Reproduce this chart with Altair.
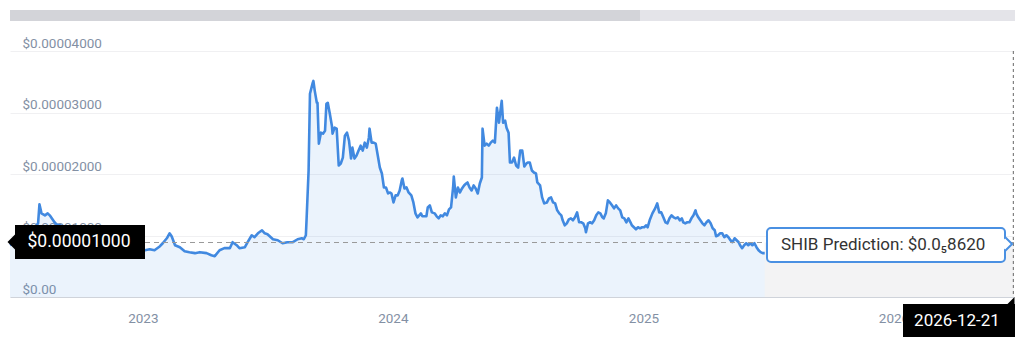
import altair as alt
import pandas as pd

# ---------------- data (price in USD) ----------------
dates_2022 = ["2022-06-21", "2022-06-28", "2022-07-05", "2022-07-13", "2022-07-20", "2022-07-27",
              "2022-08-01", "2022-08-03", "2022-08-06", "2022-08-11", "2022-08-15", "2022-08-18",
              "2022-08-21", "2022-08-25", "2022-08-28", "2022-09-16", "2022-10-01", "2022-10-16",
              "2022-10-30", "2022-11-14", "2022-11-28", "2022-12-13", "2022-12-28"]
prices_2022 = [0.842e-5, 0.891e-5, 0.955e-5, 1.004e-5, 1.053e-5, 1.117e-5,
               1.198e-5, 1.506e-5, 1.360e-5, 1.328e-5, 1.360e-5, 1.328e-5,
               1.279e-5, 1.215e-5, 1.182e-5, 1.117e-5, 1.053e-5, 0.988e-5,
               0.955e-5, 0.891e-5, 0.826e-5, 0.761e-5, 0.745e-5]

dates_2023 = ["2023-01-04", "2023-01-11", "2023-01-18", "2023-01-26", "2023-01-30", "2023-02-05",
              "2023-02-09", "2023-02-12", "2023-02-17", "2023-02-24", "2023-03-03", "2023-03-10",
              "2023-03-18", "2023-03-25", "2023-04-04", "2023-04-11", "2023-04-16", "2023-04-23",
              "2023-04-30", "2023-05-08", "2023-05-12", "2023-05-18", "2023-05-22", "2023-05-30",
              "2023-06-03", "2023-06-09", "2023-06-13", "2023-06-18", "2023-06-24", "2023-06-28",
              "2023-07-02", "2023-07-10", "2023-07-17", "2023-07-24", "2023-07-31", "2023-08-08",
              "2023-08-15", "2023-08-21", "2023-08-24", "2023-08-27", "2023-08-28", "2023-08-31",
              "2023-09-02", "2023-09-06", "2023-09-07", "2023-09-09", "2023-09-12", "2023-09-13",
              "2023-09-15", "2023-09-18", "2023-09-21", "2023-09-24", "2023-09-26", "2023-09-28",
              "2023-10-01", "2023-10-04", "2023-10-05", "2023-10-08", "2023-10-11", "2023-10-14",
              "2023-10-17", "2023-10-20", "2023-10-23", "2023-10-26", "2023-10-29", "2023-11-01",
              "2023-11-03", "2023-11-06", "2023-11-09", "2023-11-12", "2023-11-15", "2023-11-18",
              "2023-11-21", "2023-11-24", "2023-11-27", "2023-11-28", "2023-12-01", "2023-12-04",
              "2023-12-07", "2023-12-10", "2023-12-13", "2023-12-16", "2023-12-19", "2023-12-22",
              "2023-12-25", "2023-12-28", "2023-12-30"]
prices_2023 = [0.761e-5, 0.777e-5, 0.761e-5, 0.826e-5, 0.874e-5, 0.955e-5,
               1.036e-5, 0.988e-5, 0.842e-5, 0.810e-5, 0.745e-5, 0.729e-5,
               0.713e-5, 0.729e-5, 0.713e-5, 0.680e-5, 0.664e-5, 0.761e-5,
               0.794e-5, 0.794e-5, 0.891e-5, 0.842e-5, 0.794e-5, 0.810e-5,
               0.891e-5, 1.004e-5, 0.972e-5, 1.036e-5, 1.085e-5, 1.036e-5,
               1.020e-5, 0.939e-5, 0.923e-5, 0.874e-5, 0.891e-5, 0.891e-5,
               0.939e-5, 0.955e-5, 0.939e-5, 1.004e-5, 1.247e-5, 2.057e-5,
               3.304e-5, 3.482e-5, 3.514e-5, 3.352e-5, 3.158e-5, 3.158e-5,
               2.494e-5, 2.672e-5, 2.656e-5, 2.704e-5, 3.142e-5, 3.158e-5,
               2.980e-5, 2.785e-5, 2.656e-5, 2.753e-5, 2.737e-5, 2.138e-5,
               2.170e-5, 2.267e-5, 2.623e-5, 2.672e-5, 2.542e-5, 2.251e-5,
               2.429e-5, 2.251e-5, 2.300e-5, 2.381e-5, 2.461e-5, 2.381e-5,
               2.510e-5, 2.429e-5, 2.591e-5, 2.737e-5, 2.510e-5, 2.510e-5,
               2.494e-5, 2.300e-5, 2.105e-5, 2.008e-5, 1.781e-5, 1.781e-5,
               1.684e-5, 1.700e-5, 1.684e-5]

dates_2024 = ["2024-01-02", "2024-01-05", "2024-01-08", "2024-01-11", "2024-01-14", "2024-01-15",
              "2024-01-18", "2024-01-21", "2024-01-24", "2024-01-28", "2024-01-31", "2024-02-03",
              "2024-02-06", "2024-02-11", "2024-02-13", "2024-02-19", "2024-02-21", "2024-02-24",
              "2024-02-27", "2024-03-02", "2024-03-05", "2024-03-08", "2024-03-11", "2024-03-14",
              "2024-03-17", "2024-03-20", "2024-03-23", "2024-03-26", "2024-03-29", "2024-03-30",
              "2024-04-02", "2024-04-05", "2024-04-08", "2024-04-11", "2024-04-14", "2024-04-17",
              "2024-04-19", "2024-04-22", "2024-04-25", "2024-04-28", "2024-05-01", "2024-05-04",
              "2024-05-07", "2024-05-10", "2024-05-11", "2024-05-14", "2024-05-17", "2024-05-20",
              "2024-05-23", "2024-05-26", "2024-05-29", "2024-06-01", "2024-06-04", "2024-06-07",
              "2024-06-08", "2024-06-10", "2024-06-13", "2024-06-15", "2024-06-18", "2024-06-20",
              "2024-06-23", "2024-06-26", "2024-06-29", "2024-07-02", "2024-07-05", "2024-07-08",
              "2024-07-11", "2024-07-14", "2024-07-16", "2024-07-19", "2024-07-22", "2024-07-25",
              "2024-07-28", "2024-07-30", "2024-08-03", "2024-08-06", "2024-08-09", "2024-08-13",
              "2024-08-16", "2024-08-19", "2024-08-22", "2024-08-25", "2024-08-28", "2024-08-31",
              "2024-09-03", "2024-09-05", "2024-09-08", "2024-09-11", "2024-09-14", "2024-09-17",
              "2024-09-20", "2024-09-23", "2024-09-26", "2024-09-29", "2024-10-02", "2024-10-05",
              "2024-10-08", "2024-10-09", "2024-10-12", "2024-10-15", "2024-10-18", "2024-10-21",
              "2024-10-24", "2024-10-27", "2024-10-30", "2024-11-02", "2024-11-04", "2024-11-07",
              "2024-11-10", "2024-11-13", "2024-11-16", "2024-11-19", "2024-11-22", "2024-11-25",
              "2024-11-28", "2024-12-01", "2024-12-04", "2024-12-07", "2024-12-10", "2024-12-13",
              "2024-12-15", "2024-12-18", "2024-12-21", "2024-12-24", "2024-12-27", "2024-12-30"]
prices_2024 = [1.538e-5, 1.652e-5, 1.652e-5, 1.733e-5, 1.895e-5, 1.927e-5,
               1.765e-5, 1.781e-5, 1.700e-5, 1.652e-5, 1.538e-5, 1.360e-5,
               1.296e-5, 1.360e-5, 1.312e-5, 1.312e-5, 1.457e-5, 1.490e-5,
               1.376e-5, 1.360e-5, 1.312e-5, 1.279e-5, 1.328e-5, 1.312e-5,
               1.360e-5, 1.328e-5, 1.425e-5, 1.457e-5, 1.781e-5, 1.959e-5,
               1.619e-5, 1.781e-5, 1.700e-5, 1.765e-5, 1.814e-5, 1.846e-5,
               1.862e-5, 1.781e-5, 1.733e-5, 1.814e-5, 1.765e-5, 1.684e-5,
               1.846e-5, 1.943e-5, 2.737e-5, 2.461e-5, 2.494e-5, 2.461e-5,
               2.510e-5, 2.542e-5, 2.510e-5, 3.077e-5, 2.834e-5, 3.109e-5,
               3.190e-5, 2.834e-5, 2.866e-5, 2.753e-5, 2.672e-5, 2.186e-5,
               2.186e-5, 2.267e-5, 2.138e-5, 2.105e-5, 2.381e-5, 2.381e-5,
               2.121e-5, 2.170e-5, 2.186e-5, 2.186e-5, 2.057e-5, 2.024e-5,
               2.008e-5, 1.862e-5, 1.814e-5, 1.619e-5, 1.522e-5, 1.538e-5,
               1.603e-5, 1.619e-5, 1.538e-5, 1.522e-5, 1.409e-5, 1.360e-5,
               1.328e-5, 1.247e-5, 1.166e-5, 1.198e-5, 1.263e-5, 1.279e-5,
               1.247e-5, 1.296e-5, 1.376e-5, 1.215e-5, 1.215e-5, 1.198e-5,
               1.117e-5, 1.053e-5, 1.198e-5, 1.215e-5, 1.198e-5, 1.247e-5,
               1.328e-5, 1.376e-5, 1.360e-5, 1.296e-5, 1.279e-5, 1.360e-5,
               1.571e-5, 1.538e-5, 1.490e-5, 1.441e-5, 1.490e-5, 1.441e-5,
               1.409e-5, 1.296e-5, 1.279e-5, 1.215e-5, 1.279e-5, 1.215e-5,
               1.166e-5, 1.134e-5, 1.101e-5, 1.134e-5, 1.117e-5, 1.134e-5]

dates_2025 = ["2025-01-02", "2025-01-05", "2025-01-07", "2025-01-10", "2025-01-14", "2025-01-18",
              "2025-01-21", "2025-01-24", "2025-01-27", "2025-01-30", "2025-02-02", "2025-02-05",
              "2025-02-08", "2025-02-11", "2025-02-14", "2025-02-17", "2025-02-20", "2025-02-23",
              "2025-02-26", "2025-02-28", "2025-03-03", "2025-03-06", "2025-03-09", "2025-03-12",
              "2025-03-15", "2025-03-18", "2025-03-19", "2025-03-22", "2025-03-25", "2025-03-28",
              "2025-03-31", "2025-04-03", "2025-04-06", "2025-04-09", "2025-04-12", "2025-04-15",
              "2025-04-17", "2025-04-20", "2025-04-23", "2025-04-26", "2025-04-29", "2025-05-02",
              "2025-05-05", "2025-05-08", "2025-05-11", "2025-05-14", "2025-05-17", "2025-05-20",
              "2025-05-22", "2025-05-25", "2025-05-28", "2025-05-31", "2025-06-03", "2025-06-06",
              "2025-06-09", "2025-06-12", "2025-06-15", "2025-06-18", "2025-06-21", "2025-06-24",
              "2025-06-27"]
prices_2025 = [1.134e-5, 1.166e-5, 1.134e-5, 1.247e-5, 1.360e-5, 1.441e-5,
               1.522e-5, 1.376e-5, 1.376e-5, 1.296e-5, 1.215e-5, 1.198e-5,
               1.279e-5, 1.328e-5, 1.296e-5, 1.279e-5, 1.296e-5, 1.247e-5,
               1.279e-5, 1.215e-5, 1.198e-5, 1.215e-5, 1.215e-5, 1.279e-5,
               1.328e-5, 1.409e-5, 1.360e-5, 1.296e-5, 1.247e-5, 1.198e-5,
               1.166e-5, 1.215e-5, 1.247e-5, 1.198e-5, 1.117e-5, 1.085e-5,
               0.988e-5, 1.004e-5, 1.036e-5, 1.036e-5, 0.972e-5, 1.004e-5,
               0.972e-5, 0.923e-5, 0.891e-5, 0.955e-5, 0.923e-5, 0.891e-5,
               0.842e-5, 0.794e-5, 0.842e-5, 0.874e-5, 0.842e-5, 0.874e-5,
               0.842e-5, 0.874e-5, 0.810e-5, 0.761e-5, 0.729e-5, 0.713e-5,
               0.713e-5]

prediction_dates = ["2025-06-27", "2026-06-26"]
crosshair_value = 0.886e-5
cursor_date = ["2026-06-25"]
y_ticks = [0, 1e-5, 2e-5, 3e-5, 4e-5]

left_label = "$0.00001000"
right_label = "SHIB Prediction: $0.0\u20858620"
date_label = "2026-12-21"

df = pd.DataFrame({
    "date": dates_2022 + dates_2023 + dates_2024 + dates_2025,
    "price": prices_2022 + prices_2023 + prices_2024 + prices_2025,
})
pred_df = pd.DataFrame({"date": prediction_dates, "price": [crosshair_value] * 2})
cross_df = pd.DataFrame({"price": [crosshair_value]})
cursor_df = pd.DataFrame({"date": cursor_date})
one = pd.DataFrame({"k": [0]})

W, H = 1004, 246
LABEL = "#8390a4"
BLUE = "#4189e0"

x_scale = alt.Scale(domain=[alt.DateTime(year=2022, month=6, date=21),
                            alt.DateTime(year=2026, month=6, date=26)])
y_scale = alt.Scale(domain=[0, 4e-5], nice=False, zero=True)

x_axis = alt.Axis(title=None, format="%Y", tickCount={"interval": "year", "step": 1},
                  ticks=False, grid=False, domainColor="#cfd3da", labelColor=LABEL,
                  labelFontSize=13.5, labelPadding=21, labelBaseline="middle", labelFlush=False)
y_axis = alt.Axis(title=None, values=y_ticks, ticks=False, domain=False, grid=True,
                  gridColor="#f0f0f2", labelColor=LABEL, labelFontSize=13.5,
                  labelAlign="left", labelPadding=-12, labelBaseline="alphabetic",
                  labelOffset=-4,
                  labelExpr="datum.value == 0 ? '$0.00' : '$' + format(datum.value, '.8f')")

scroll_dark = alt.Chart(one).mark_rect(color="#d3d4d9").encode(
    x=alt.value(0), x2=alt.value(630), y=alt.value(-41), y2=alt.value(-30))
scroll_light = alt.Chart(one).mark_rect(color="#e4e4e9").encode(
    x=alt.value(630), x2=alt.value(1005), y=alt.value(-41), y2=alt.value(-30))

pred_area = alt.Chart(pred_df).mark_area(color="#f3f3f4").encode(
    x=alt.X("date:T", scale=x_scale, axis=x_axis),
    y=alt.Y("price:Q", scale=y_scale, axis=y_axis))

area = alt.Chart(df).mark_area(color="#4a90e2", opacity=0.11).encode(
    x="date:T", y="price:Q")
line = alt.Chart(df).mark_line(color=BLUE, strokeWidth=2.6, strokeJoin="round").encode(
    x="date:T", y="price:Q")

hrule = alt.Chart(cross_df).mark_rule(color="#9a9a9a", strokeDash=[5, 4], strokeWidth=1).encode(
    y="price:Q")
vrule = alt.Chart(cursor_df).mark_rule(color="#666666", strokeDash=[3, 3], strokeWidth=1).encode(
    x="date:T")

# left black tooltip
lt_box = alt.Chart(one).mark_rect(color="black").encode(
    x=alt.value(5), x2=alt.value(135), y=alt.value(174), y2=alt.value(208))
lt_arrow = alt.Chart(one).mark_point(shape="M 0 -1 L -1 0 L 0 1 Z", filled=True, fill="black",
                                     opacity=1, strokeWidth=0, size=225).encode(
    x=alt.value(5), y=alt.value(191))
lt_text = alt.Chart(one).mark_text(color="white", fontSize=17.5, align="center",
                                   baseline="middle").encode(
    x=alt.value(69), y=alt.value(191), text=alt.value(left_label))

# right prediction callout
rc_box = alt.Chart(one).mark_rect(fill="white", stroke="#4a90e2", strokeWidth=2,
                                  cornerRadius=4).encode(
    x=alt.value(757), x2=alt.value(995), y=alt.value(177), y2=alt.value(211))
rc_arrow = alt.Chart(one).mark_point(shape="M 0 -1 L 1 0 L 0 1", filled=False, fill="white",
                                     stroke="#4a90e2", strokeWidth=2, opacity=1,
                                     size=200).encode(
    x=alt.value(995), y=alt.value(193))
rc_arrow_fill = alt.Chart(one).mark_point(shape="M 0 -1 L 1 0 L 0 1 Z", filled=True, fill="white",
                                          strokeWidth=0, opacity=1, size=120).encode(
    x=alt.value(994), y=alt.value(193))
rc_text = alt.Chart(one).mark_text(color="#333333", fontSize=17, align="left",
                                   baseline="middle").encode(
    x=alt.value(771), y=alt.value(194), text=alt.value(right_label))

# bottom-right date tooltip
dt_box = alt.Chart(one).mark_rect(color="black").encode(
    x=alt.value(893), x2=alt.value(1005), y=alt.value(253), y2=alt.value(286))
dt_arrow = alt.Chart(one).mark_point(shape="M 1 -1 L 1 1 L -1 1 Z", filled=True, fill="black",
                                     opacity=1, strokeWidth=0, size=49).encode(
    x=alt.value(1001), y=alt.value(249.5))
dt_text = alt.Chart(one).mark_text(color="white", fontSize=17, align="center",
                                   baseline="middle").encode(
    x=alt.value(947), y=alt.value(270), text=alt.value(date_label))

chart = alt.layer(
    pred_area, area, line, hrule, vrule,
    scroll_dark, scroll_light,
    lt_box, lt_arrow, lt_text,
    rc_box, rc_arrow, rc_arrow_fill, rc_text,
    dt_box, dt_arrow, dt_text,
).properties(
    width=W, height=H,
    autosize=alt.AutoSizeParams(type="none"),
    padding={"left": 10, "top": 51, "right": 10, "bottom": 54},
    background="white",
).configure(font="Roboto").configure_view(stroke=None)

chart.save("out.html", embed_options={"renderer": "svg", "actions": False})
